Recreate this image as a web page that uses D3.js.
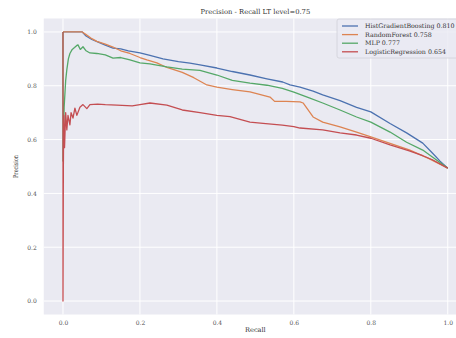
<!DOCTYPE html>
<html>
<head>
<meta charset="utf-8">
<script src="https://cdn.jsdelivr.net/npm/d3@7"></script>
<style>
  body { margin: 0; background: #fff; }
  text { font-family: "DejaVu Serif", serif; }
</style>
</head>
<body>
<svg id="chart" width="456" height="338"></svg>
<script>
// series names + legend labels
const names = ['HistGradientBoosting 0.810', 'RandomForest 0.758', 'MLP 0.777', 'LogisticRegression 0.654'];
const colors = ['#4c72b0', '#dd8452', '#55a868', '#c44e52'];

// recall / precision
const hgbRecall = [0, 0.05, 0.06, 0.075, 0.09, 0.11, 0.13, 0.15, 0.17, 0.2, 0.226, 0.26, 0.3, 0.33, 0.356, 0.4, 0.44, 0.486, 0.53, 0.571, 0.59, 0.616, 0.65, 0.675, 0.72, 0.763, 0.8, 0.85, 0.893, 0.935, 0.96, 0.98, 1.0];
const hgbPrec = [1.0, 1.0, 0.985, 0.972, 0.963, 0.951, 0.94, 0.937, 0.93, 0.922, 0.913, 0.9, 0.89, 0.884, 0.878, 0.866, 0.853, 0.84, 0.826, 0.814, 0.803, 0.795, 0.78, 0.766, 0.745, 0.72, 0.703, 0.66, 0.625, 0.587, 0.55, 0.52, 0.494];

const rfRecall = [0, 0.05, 0.06, 0.075, 0.088, 0.11, 0.13, 0.15, 0.174, 0.2, 0.218, 0.244, 0.27, 0.31, 0.34, 0.374, 0.4, 0.44, 0.486, 0.538, 0.55, 0.58, 0.616, 0.624, 0.65, 0.675, 0.72, 0.763, 0.8, 0.85, 0.9, 0.95, 1.0];
const rfPrec = [1.0, 1.0, 0.99, 0.975, 0.965, 0.955, 0.944, 0.93, 0.92, 0.905, 0.896, 0.885, 0.868, 0.85, 0.83, 0.803, 0.795, 0.786, 0.777, 0.758, 0.742, 0.742, 0.74, 0.736, 0.684, 0.665, 0.647, 0.628, 0.61, 0.586, 0.562, 0.53, 0.494];

const mlpRecall = [0, 0, 0.003, 0.007, 0.01, 0.014, 0.018, 0.024, 0.03, 0.036, 0.039, 0.045, 0.052, 0.06, 0.07, 0.088, 0.11, 0.13, 0.15, 0.174, 0.2, 0.226, 0.244, 0.27, 0.31, 0.356, 0.4, 0.44, 0.486, 0.53, 0.57, 0.6, 0.64, 0.675, 0.72, 0.763, 0.8, 0.85, 0.893, 0.935, 0.96, 1.0];
const mlpPrec = [1.0, 0.52, 0.72, 0.82, 0.86, 0.9, 0.92, 0.935, 0.942, 0.95, 0.952, 0.935, 0.945, 0.93, 0.922, 0.92, 0.915, 0.903, 0.905, 0.896, 0.885, 0.881, 0.877, 0.87, 0.862, 0.857, 0.84, 0.82, 0.81, 0.802, 0.79, 0.776, 0.755, 0.736, 0.71, 0.684, 0.665, 0.628, 0.59, 0.561, 0.535, 0.494];

const lrRecall = [0, 0, 0.001, 0.002, 0.004, 0.007, 0.01, 0.013, 0.018, 0.021, 0.026, 0.031, 0.036, 0.044, 0.052, 0.062, 0.07, 0.09, 0.11, 0.14, 0.18, 0.2, 0.226, 0.27, 0.31, 0.356, 0.4, 0.434, 0.486, 0.52, 0.57, 0.6, 0.616, 0.675, 0.72, 0.763, 0.8, 0.85, 0.9, 0.935, 0.96, 1.0];
const lrPrec = [1.0, 0.0, 0.5, 0.69, 0.57, 0.7, 0.636, 0.69, 0.655, 0.7, 0.68, 0.717, 0.69, 0.72, 0.73, 0.715, 0.73, 0.732, 0.73, 0.728, 0.725, 0.73, 0.736, 0.728, 0.71, 0.7, 0.69, 0.685, 0.665, 0.66, 0.654, 0.648, 0.643, 0.636, 0.625, 0.617, 0.605, 0.58, 0.558, 0.54, 0.525, 0.494];

const xTicks = [0.0, 0.2, 0.4, 0.6, 0.8, 1.0];
const yTicks = [0.0, 0.2, 0.4, 0.6, 0.8, 1.0];

const series = [
  [hgbRecall, hgbPrec],
  [rfRecall, rfPrec],
  [mlpRecall, mlpPrec],
  [lrRecall, lrPrec]
];

const svg = d3.select('#chart');
const plotL = 43.75, plotR = 467, plotT = 18.5, plotB = 314.5;

const x = d3.scaleLinear().domain([-0.05, 1.05]).range([plotL, plotR]);
const y = d3.scaleLinear().domain([-0.05, 1.05]).range([plotB, plotT]);

// background
svg.append('rect')
  .attr('x', plotL).attr('y', plotT)
  .attr('width', plotR - plotL).attr('height', plotB - plotT)
  .attr('fill', '#eaeaf2');

// grid
svg.append('g').selectAll('line')
  .data(xTicks).enter().append('line')
  .attr('x1', d => x(d)).attr('x2', d => x(d))
  .attr('y1', plotT).attr('y2', plotB)
  .attr('stroke', '#fff').attr('stroke-width', 1);
svg.append('g').selectAll('line')
  .data(yTicks).enter().append('line')
  .attr('y1', d => y(d)).attr('y2', d => y(d))
  .attr('x1', plotL).attr('x2', plotR)
  .attr('stroke', '#fff').attr('stroke-width', 1);

// axes (no domain lines, seaborn darkgrid style)
const xAxis = svg.append('g')
  .attr('transform', `translate(0,${plotB})`)
  .call(d3.axisBottom(x).tickValues(xTicks).tickFormat(d3.format('.1f')).tickSize(0).tickPadding(6));
const yAxis = svg.append('g')
  .attr('transform', `translate(${plotL},0)`)
  .call(d3.axisLeft(y).tickValues(yTicks).tickFormat(d3.format('.1f')).tickSize(0).tickPadding(7));
[xAxis, yAxis].forEach(a => {
  a.select('.domain').remove();
  a.selectAll('text')
    .attr('font-family', '"DejaVu Serif", serif')
    .attr('font-size', 6)
    .attr('fill', '#555');
});

// curves
svg.append('clipPath').attr('id', 'plotclip')
  .append('rect')
  .attr('x', plotL).attr('y', plotT)
  .attr('width', plotR - plotL).attr('height', plotB - plotT);

const line = d3.line()
  .x(d => x(d[0]))
  .y(d => y(d[1]));

const g = svg.append('g').attr('clip-path', 'url(#plotclip)');
series.forEach((s, i) => {
  const pts = s[0].map((r, j) => [r, s[1][j]]);
  g.append('path')
    .datum(pts)
    .attr('d', line)
    .attr('fill', 'none')
    .attr('stroke', colors[i])
    .attr('stroke-width', 1.3)
    .attr('stroke-linejoin', 'round');
});

// title and labels
svg.append('text')
  .attr('x', (plotL + plotR) / 2).attr('y', 14)
  .attr('text-anchor', 'middle')
  .attr('font-size', 6.8)
  .attr('fill', '#333')
  .text('Precision - Recall LT level=0.75');

svg.append('text')
  .attr('x', (plotL + plotR) / 2).attr('y', 332)
  .attr('text-anchor', 'middle')
  .attr('font-size', 6.6)
  .attr('fill', '#333')
  .text('Recall');

svg.append('text')
  .attr('transform', `translate(18,${(plotT + plotB) / 2}) rotate(-90)`)
  .attr('text-anchor', 'middle')
  .attr('font-size', 6.6)
  .attr('textLength', 23)
  .attr('lengthAdjust', 'spacingAndGlyphs')
  .attr('fill', '#333')
  .text('Precision');

// legend
const lg = svg.append('g');
lg.append('rect')
  .attr('x', 337).attr('y', 19)
  .attr('width', 130).attr('height', 39)
  .attr('rx', 2)
  .attr('fill', '#eaeaf2').attr('fill-opacity', 0.8)
  .attr('stroke', '#d0d0d8').attr('stroke-width', 0.8);
names.forEach((n, i) => {
  const yy = 26 + i * 8.6;
  lg.append('line')
    .attr('x1', 342).attr('x2', 358)
    .attr('y1', yy).attr('y2', yy)
    .attr('stroke', colors[i]).attr('stroke-width', 1.3);
  lg.append('text')
    .attr('x', 365).attr('y', yy + 2.2)
    .attr('font-size', 6.3)
    .attr('fill', '#333')
    .text(n);
});
</script>
</body>
</html>
